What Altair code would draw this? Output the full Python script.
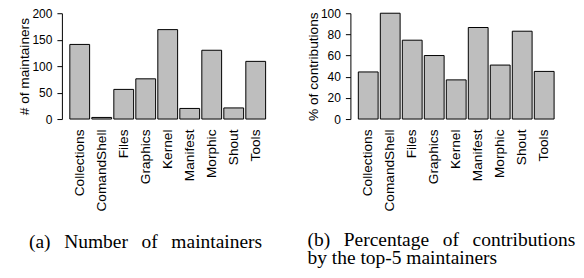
import altair as alt
import pandas as pd

packages = ["Collections", "ComandShell", "Files", "Graphics", "Kernel",
            "Manifest", "Morphic", "Shout", "Tools"]
maintainers = [141, 3, 56, 76, 169, 20, 130, 21, 109]
contributions = [44.5, 100, 74.5, 60, 37, 86.5, 51, 83, 45]

df = pd.DataFrame({"package": packages, "maintainers": maintainers,
                   "contrib": contributions})

SANS = "Liberation Sans"
SERIF = "Liberation Serif"
W, H = 212, 106


def panel(field, ytitle, ymax, ticks, caption, cap_dx, cap_dy):
    return alt.Chart(df).mark_bar(
        fill="#bebebe", stroke="black", strokeWidth=1
    ).encode(
        x=alt.X("package:N", sort=packages, title=None,
                scale=alt.Scale(paddingInner=0.1, paddingOuter=0.36),
                axis=alt.Axis(labelAngle=270, domain=False, ticks=False,
                              labelPadding=10, labelFont=SANS,
                              labelFontSize=13.7, labelColor="black")),
        y=alt.Y(f"{field}:Q", title=ytitle,
                scale=alt.Scale(domain=[0, ymax], nice=False),
                axis=alt.Axis(values=ticks, grid=False, tickSize=5,
                              tickColor="black", domainColor="black",
                              labelPadding=5, labelFont=SANS, labelFontSize=12,
                              labelColor="black", titleFont=SANS,
                              titleFontSize=13.7, titleFontWeight="normal",
                              titleColor="black", titlePadding=0)),
    ).properties(
        width=W, height=H,
        title=alt.TitleParams(text=caption, orient="bottom", anchor="start",
                              frame="group", font=SERIF, fontSize=19.5,
                              fontWeight="normal", color="black", dx=cap_dx,
                              dy=cap_dy, offset=37, baseline="alphabetic",
                              lineHeight=18),
    )


left = panel("maintainers", "# of maintainers", 200, [0, 50, 100, 150, 200],
             "(a)\u2002\u2009Number\u2002\u2009of\u2002\u2009maintainers", -33, 0)
right = panel("contrib", "% of contributions", 100, [0, 20, 40, 60, 80, 100],
              ["(b)\u2002\u2009Percentage\u2002\u2009of\u2002\u2009contributions",
               "by the top-5 maintainers"], -43, -2)

chart = alt.hconcat(left, right, spacing=77, bounds="flush").configure_view(
    stroke=None
).properties(padding={"left": 9, "top": -1, "right": 0, "bottom": 0})

chart.save("out.html", embed_options={"renderer": "svg", "actions": False})
